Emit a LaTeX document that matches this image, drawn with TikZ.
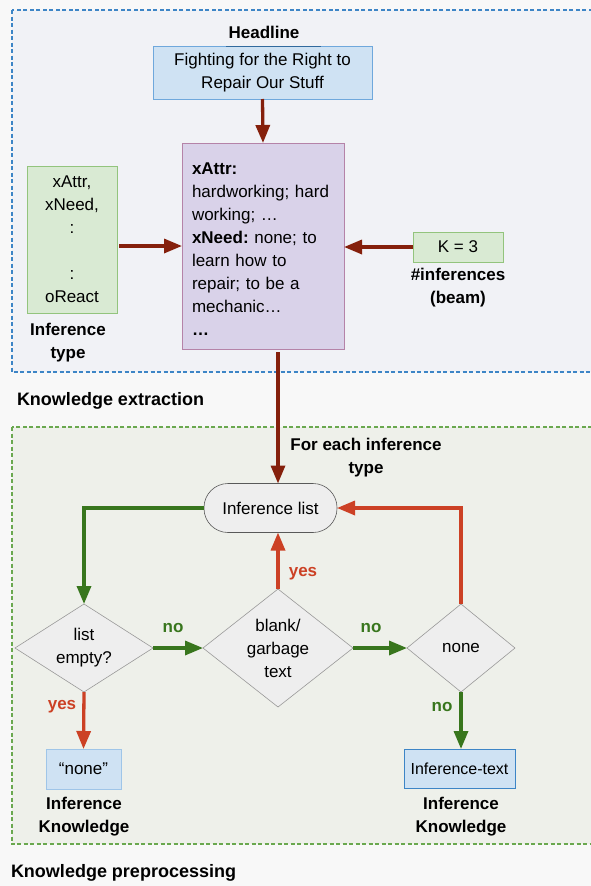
\documentclass[tikz,border=0pt]{standalone}
\usepackage{fontspec}
\setmainfont{Liberation Sans}
\usetikzlibrary{arrows.meta,shapes.geometric}
\definecolor{bgc}{HTML}{F8F8F8}
\definecolor{pone}{HTML}{F1F2F6}
\definecolor{ponebd}{HTML}{3D85C6}
\definecolor{ptwo}{HTML}{EEF0EA}
\definecolor{ptwobd}{HTML}{6AA84F}
\definecolor{dred}{HTML}{85200C}
\definecolor{lred}{HTML}{CC4125}
\definecolor{dgreen}{HTML}{38761D}
\definecolor{lblue}{HTML}{CFE2F3}
\definecolor{lbluebd}{HTML}{6FA8DC}
\definecolor{lbluebdb}{HTML}{9FC5E8}
\definecolor{dbluebd}{HTML}{3D85C6}
\definecolor{lpurple}{HTML}{D9D2E9}
\definecolor{purplebd}{HTML}{B583A8}
\definecolor{lgreen}{HTML}{D9EAD3}
\definecolor{lgreenbd}{HTML}{93C47D}
\definecolor{dgray}{HTML}{EEEEEE}
\tikzset{
  every node/.style={font=\fontsize{17}{23}\selectfont\frenchspacing, inner sep=0pt, outer sep=0pt},
  boldlbl/.style={font=\fontsize{17}{23}\selectfont\bfseries, align=center},
  sectlbl/.style={font=\fontsize{18}{23}\selectfont\bfseries, anchor=west},
  bluebox/.style={draw=lbluebd, fill=lblue, line width=0.8pt, align=center},
  decision/.style={diamond, draw=black!40, fill=dgray, line width=0.6pt, minimum width=#1},
  darrow/.style={draw=dred, line width=3.3pt, -{Triangle[length=18pt,width=14pt]}},
  rarrow/.style={draw=lred, line width=3.3pt, -{Triangle[length=18pt,width=14pt]}},
  garrow/.style={draw=dgreen, line width=3.3pt, -{Triangle[length=18pt,width=14pt]}},
}
\begin{document}
\begin{tikzpicture}[x=1pt,y=-1pt]
\useasboundingbox (0,0) rectangle (591,886);
\clip (0,0) rectangle (591,886);
\fill[bgc] (0,0) rectangle (591,886);
% panels
\draw[fill=pone, draw=ponebd, line width=1.1pt, dash pattern=on 4pt off 2.5pt] (12,10) rectangle (600,372);
\draw[fill=ptwo, draw=ptwobd, line width=1.1pt, dash pattern=on 4pt off 2.5pt] (12,427) rectangle (600,844);

% knowledge extraction
\node[boldlbl] (headlbl) at (264,32) {Headline};
\node[bluebox, minimum width=219pt, minimum height=53pt] (headline) at (262.5,72.5) {Fighting for the Right to\\Repair Our Stuff};
\draw[draw=ponebd!80!black, line width=1pt] (226,46.5) -- (321,46.5);

\node[draw=purplebd, fill=lpurple, line width=0.8pt, text width=142pt, inner xsep=10pt, minimum height=206pt, align=left] (attrs) at (263,246)
{\rule{0pt}{18pt}\textbf{xAttr:}\\hardworking; hard\\working; …\\\textbf{xNeed:} none; to\\learn how to\\repair; to be a\\mechanic…\\\textbf{…}};

\node[draw=lgreenbd, fill=lgreen, line width=0.8pt, minimum width=90pt, minimum height=147pt, align=center] (types) at (72,239.5)
{xAttr,\\xNeed,\\:\\\mbox{}\\:\\oReact};
\node[boldlbl] (typelbl) at (68,343) {Inference\\type};

\node[draw=lgreenbd, fill=lgreen, line width=0.8pt, minimum width=90pt, minimum height=30pt] (kbox) at (458,247) {K = 3};
\node[boldlbl] (klbl) at (458,288) {\#inferences\\(beam)};

\node[sectlbl] (extr) at (17,401) {Knowledge extraction};

\draw[darrow] (headline.south) -- (attrs.north);
\draw[darrow] (types.east |- attrs.west) ++(2,0) -- (attrs.west);
\draw[darrow] (kbox.west) -- (kbox.west -| attrs.east);

% knowledge preprocessing
\node[boldlbl] (foreach) at (366,457.5) {For each inference\\type};
\node[draw=black!65, fill=dgray, line width=0.6pt, rounded corners=24pt, minimum width=133pt, minimum height=49pt] (list) at (270.5,508) {Inference list};

\node[decision=138pt, minimum height=88pt, label={[align=center]center:list\\empty?}] (empty) at (84,648) {};
\node[decision=150pt, minimum height=118pt, label={[align=center]center:blank/\\garbage\\text}] (blank) at (278,648) {};
\node[decision=108pt, minimum height=88pt, label={[align=center]center:none}] (nonechk) at (461,648) {};

\node[draw=lbluebdb, fill=lblue, line width=0.8pt, minimum width=75pt, minimum height=40pt] (nonebox) at (83.5,769) {“none”};
\node[draw=dbluebd, fill=lblue, line width=0.8pt, minimum width=111pt, minimum height=39pt, font=\fontsize{16}{20}\selectfont] (itext) at (459.5,768.5) {Inference-text};
\node[boldlbl] (ik1) at (84,817) {Inference\\Knowledge};
\node[boldlbl] (ik2) at (461,817) {Inference\\Knowledge};

\node[sectlbl] (prep) at (11,873) {Knowledge preprocessing};

\draw[darrow] (attrs.south -| blank.north) ++(0,3) -- (list.north -| blank.north);
\draw[garrow] (list.west) -| (empty.north);
\draw[garrow] (empty.east) -- (blank.west);
\draw[garrow] (blank.east) -- (nonechk.west);
\draw[rarrow] (blank.north) -- (list.south -| blank.north);
\draw[rarrow] (nonechk.north) |- (list.east);
\draw[rarrow] (empty.south) -- (nonebox.north);
\draw[garrow] (nonechk.south) -- (itext.north -| nonechk.south);

\node[boldlbl, text=dgreen] (no1) at (173,628) {no};
\node[boldlbl, text=dgreen] (no2) at (371,628) {no};
\node[boldlbl, text=lred] (yes1) at (303,574) {yes};
\node[boldlbl, text=lred] (yes2) at (62,707) {yes};
\node[boldlbl, text=dgreen] (no3) at (442,707) {no};
\end{tikzpicture}
\end{document}
